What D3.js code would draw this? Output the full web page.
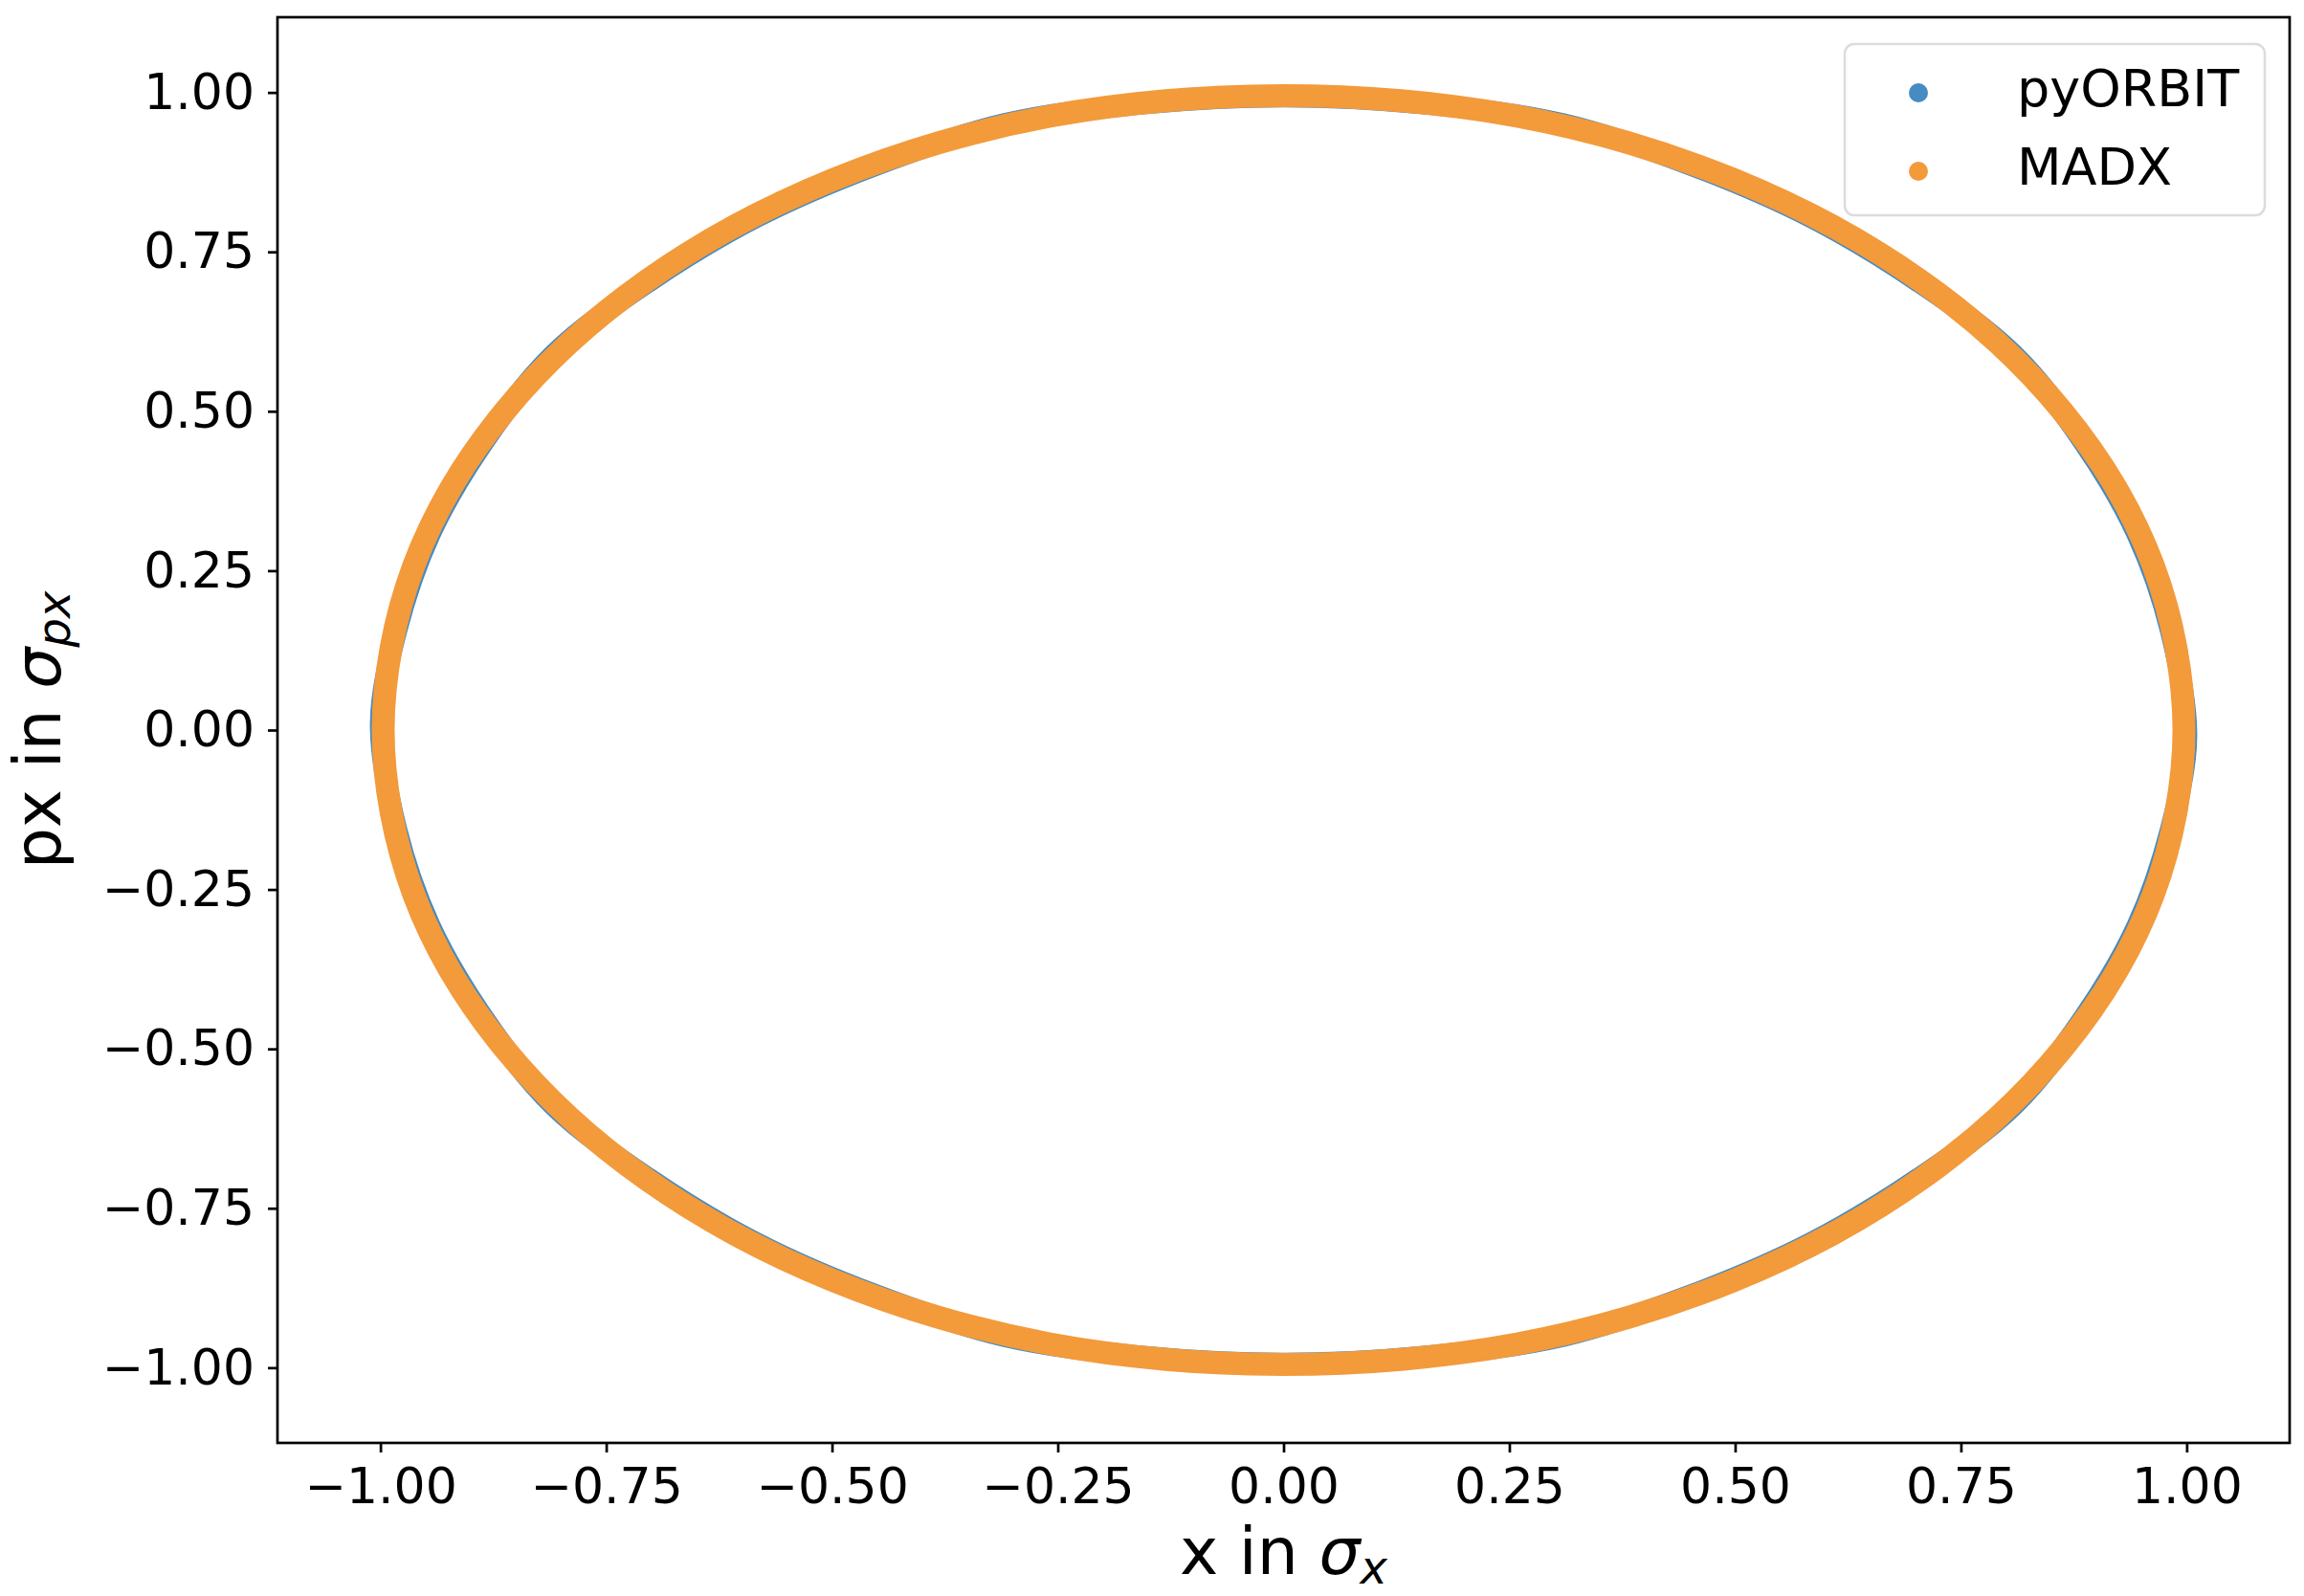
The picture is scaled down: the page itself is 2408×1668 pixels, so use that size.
<!DOCTYPE html>
<html lang="en">
<head>
<meta charset="utf-8">
<script src="https://d3js.org/d3.v7.min.js"></script>
<style>
  body { margin: 0; background: #fff; }
  text { font-family: "DejaVu Sans", sans-serif; fill: #000; }
</style>
</head>
<body>
<script>
  var width = 2408,
      height = 1668;

  // phase space points (x in sigma_x, px in sigma_px)
  var madxX  = [0.997, 0.988, 0.963, 0.921, 0.863, 0.791, 0.705, 0.607, 0.499, 0.382, 0.258, 0.130,
                0.000, -0.130, -0.258, -0.382, -0.499, -0.607, -0.705, -0.791, -0.863, -0.921, -0.963, -0.988,
                -0.997, -0.988, -0.963, -0.921, -0.863, -0.791, -0.705, -0.607, -0.499, -0.382, -0.258, -0.130,
                0.000, 0.130, 0.258, 0.382, 0.499, 0.607, 0.705, 0.791, 0.863, 0.921, 0.963, 0.988];
  var madxPx = [0.000, 0.130, 0.258, 0.382, 0.499, 0.607, 0.705, 0.791, 0.863, 0.921, 0.963, 0.987,
                0.995, 0.987, 0.963, 0.921, 0.863, 0.791, 0.705, 0.607, 0.499, 0.382, 0.258, 0.130,
                0.000, -0.130, -0.258, -0.382, -0.499, -0.607, -0.705, -0.791, -0.863, -0.921, -0.963, -0.987,
                -0.995, -0.987, -0.963, -0.921, -0.863, -0.791, -0.705, -0.607, -0.499, -0.382, -0.258, -0.130];

  var pyorbitX  = [1.000, 0.982, 0.945, 0.886, 0.809, 0.703, 0.584, 0.451, 0.309, 0.156,
                   0.000, -0.156, -0.309, -0.451, -0.584, -0.703, -0.809, -0.886, -0.945, -0.982,
                   -1.000, -0.982, -0.945, -0.886, -0.809, -0.703, -0.584, -0.451, -0.309, -0.156,
                   0.000, 0.156, 0.309, 0.451, 0.584, 0.703, 0.809, 0.886, 0.945, 0.982];
  var pyorbitPx = [-0.010, 0.156, 0.307, 0.451, 0.588, 0.703, 0.804, 0.886, 0.951, 0.982,
                   0.993, 0.982, 0.951, 0.886, 0.804, 0.703, 0.588, 0.451, 0.307, 0.156,
                   0.010, -0.156, -0.307, -0.451, -0.588, -0.703, -0.804, -0.886, -0.951, -0.982,
                   -0.993, -0.982, -0.951, -0.886, -0.804, -0.703, -0.588, -0.451, -0.307, -0.156];

  var tickValues = [-1.0, -0.75, -0.5, -0.25, 0.0, 0.25, 0.5, 0.75, 1.0];
  var seriesNames = ['pyORBIT', 'MADX'];
  var colours = ['#468bc1', '#f39a3b'];

  var plotL = 290, plotR = 2393, plotT = 18, plotB = 1508;

  var x = d3.scaleLinear().domain([-1.114, 1.114]).range([plotL, plotR]);
  var y = d3.scaleLinear().domain([-1.118, 1.118]).range([plotB, plotT]);

  var svg = d3.select('body')
    .append('svg')
    .attr('width', width)
    .attr('height', height);

  svg.append('defs').append('clipPath').attr('id', 'plotclip')
    .append('rect')
    .attr('x', plotL).attr('y', plotT)
    .attr('width', plotR - plotL).attr('height', plotB - plotT);

  var series = [
    { name: seriesNames[0], xs: pyorbitX, ps: pyorbitPx, colour: colours[0], w: 22 },
    { name: seriesNames[1], xs: madxX, ps: madxPx, colour: colours[1], w: 24 }
  ];

  var line = d3.line()
    .x(function(d) { return x(d[0]); })
    .y(function(d) { return y(d[1]); })
    .curve(d3.curveCatmullRomClosed.alpha(0.5));

  svg.append('g')
    .attr('clip-path', 'url(#plotclip)')
    .selectAll('path')
    .data(series)
    .join('path')
    .attr('d', function(s) { return line(d3.zip(s.xs, s.ps)); })
    .attr('fill', 'none')
    .attr('stroke', function(s) { return s.colour; })
    .attr('stroke-width', function(s) { return s.w; })
    .attr('stroke-linejoin', 'round');

  // axes
  var fmt = d3.format('.2f');
  var xAxis = svg.append('g')
    .attr('transform', 'translate(0,' + plotB + ')')
    .call(d3.axisBottom(x).tickValues(tickValues).tickFormat(fmt).tickSize(10).tickPadding(16));
  var yAxis = svg.append('g')
    .attr('transform', 'translate(' + plotL + ',0)')
    .call(d3.axisLeft(y).tickValues(tickValues).tickFormat(fmt).tickSize(10).tickPadding(14));

  [xAxis, yAxis].forEach(function(a) {
    a.select('.domain').remove();
    a.selectAll('.tick line').attr('stroke', '#000').attr('stroke-width', 2.7);
    a.selectAll('.tick text').attr('font-size', 52).attr('font-family', 'DejaVu Sans').attr('fill', '#000');
  });

  svg.append('rect')
    .attr('x', plotL).attr('y', plotT)
    .attr('width', plotR - plotL).attr('height', plotB - plotT)
    .attr('fill', 'none')
    .attr('stroke', '#000')
    .attr('stroke-width', 2.7);

  // axis labels
  var xl = svg.append('text')
    .attr('x', (plotL + plotR) / 2)
    .attr('y', 1645)
    .attr('text-anchor', 'middle')
    .attr('font-size', 68);
  xl.append('tspan').text('x in ');
  xl.append('tspan').attr('font-style', 'italic').text('σ');
  xl.append('tspan').attr('font-style', 'italic').attr('font-size', 48).attr('dy', 10).text('x');

  var yl = svg.append('text')
    .attr('transform', 'translate(63,' + (plotT + plotB) / 2 + ') rotate(-90)')
    .attr('text-anchor', 'middle')
    .attr('font-size', 68);
  yl.append('tspan').text('px in ');
  yl.append('tspan').attr('font-style', 'italic').text('σ');
  yl.append('tspan').attr('font-style', 'italic').attr('font-size', 48).attr('dy', 10).text('px');

  // legend
  var lg = svg.append('g');
  lg.append('rect')
    .attr('x', 1928).attr('y', 46)
    .attr('width', 439).attr('height', 179)
    .attr('rx', 10)
    .attr('fill', '#fff')
    .attr('fill-opacity', 0.8)
    .attr('stroke', '#dcdcdc')
    .attr('stroke-width', 2.5);

  var items = lg.selectAll('g.item')
    .data(series)
    .join('g')
    .attr('class', 'item')
    .attr('transform', function(d, i) { return 'translate(0,' + (i * 82) + ')'; });
  items.append('circle')
    .attr('cx', 2005).attr('cy', 97)
    .attr('r', 10)
    .attr('fill', function(d) { return d.colour; });
  items.append('text')
    .attr('x', 2108).attr('y', 111)
    .attr('font-size', 54)
    .text(function(d) { return d.name; });

  console.log('ready..');
</script>
</body>
</html>
